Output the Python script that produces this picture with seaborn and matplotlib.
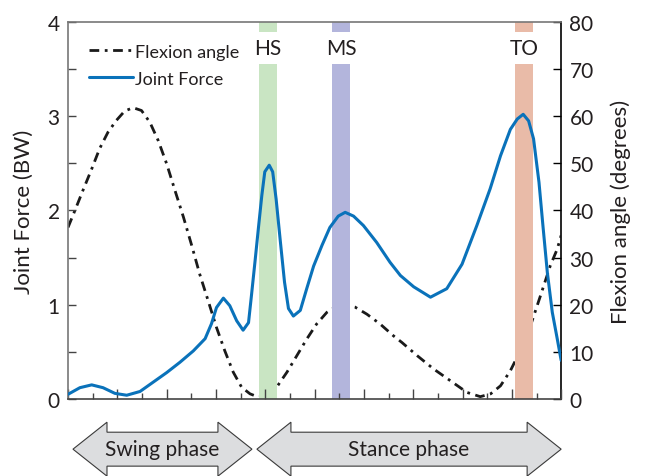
import numpy as np
import pandas as pd
import seaborn as sns
import matplotlib.pyplot as plt
from matplotlib.patches import Polygon
from matplotlib.lines import Line2D
import matplotlib.transforms as mtransforms

# gait cycle (%) and joint force (BW)
force_pct = [0.0, 2.4, 4.8, 7.1, 9.5, 11.9, 14.6, 17.3, 20.0, 22.7, 25.4, 27.8, 29.1, 30.1,
             31.5, 32.8, 34.2, 35.5, 36.6, 37.2, 37.9, 38.6, 39.3, 39.9, 40.8, 41.5, 42.2,
             43.0, 43.9, 44.7, 45.7, 47.1, 48.4, 49.8, 51.5, 53.1, 54.8, 56.2, 57.9, 59.9,
             62.6, 65.3, 67.4, 70.1, 73.5, 76.8, 79.9, 82.9, 85.6, 87.7, 89.7, 91.1, 92.3,
             93.4, 94.4, 95.5, 96.3, 97.2, 98.2, 99.2, 100]
force_bw = [0.05, 0.12, 0.15, 0.12, 0.06, 0.04, 0.08, 0.18, 0.28, 0.39, 0.51, 0.64, 0.80, 0.97,
            1.07, 0.99, 0.83, 0.73, 0.81, 1.10, 1.45, 1.81, 2.16, 2.41, 2.48, 2.41, 2.12,
            1.70, 1.24, 0.96, 0.88, 0.94, 1.17, 1.41, 1.63, 1.82, 1.94, 1.98, 1.94, 1.84,
            1.66, 1.45, 1.31, 1.19, 1.08, 1.17, 1.43, 1.84, 2.23, 2.58, 2.86, 2.97, 3.02,
            2.95, 2.76, 2.30, 1.84, 1.34, 0.92, 0.64, 0.41]

# gait cycle (%) and flexion angle (degrees)
flex_pct = [0.0, 1.4, 3.0, 4.8, 6.4, 8.1, 9.8, 11.5, 13.2, 14.9, 16.6, 18.3, 20.0, 21.7, 23.4,
            25.1, 26.7, 28.4, 30.1, 31.8, 33.5, 35.2, 36.9, 38.6, 40.6, 42.3, 44.4, 46.4,
            48.4, 50.4, 52.5, 54.5, 56.2, 58.2, 60.6, 63.3, 66.0, 67.7, 70.8, 74.1, 77.5,
            80.9, 83.6, 85.7, 87.7, 89.7, 91.7, 93.8, 95.8, 97.8, 99.2, 100]
flex_deg = [36.4, 40.0, 44.2, 48.8, 53.1, 56.6, 59.1, 61.1, 61.8, 61.2, 58.7, 54.8, 49.9, 44.2,
            38.6, 32.5, 26.5, 20.9, 15.2, 10.2, 5.7, 2.5, 1.1, 0.4, 0.7, 2.5, 5.7, 9.2,
            12.7, 15.9, 18.4, 19.7, 20.0, 19.5, 18.0, 15.9, 13.4, 12.0, 9.2, 6.4, 3.9,
            1.4, 0.5, 1.1, 2.8, 6.0, 10.2, 15.6, 21.9, 28.3, 31.8, 34.7]

# gait events (start, end in % of cycle)
events = ['HS', 'MS', 'TO']
event_start = [38.7, 53.5, 90.7]
event_end = [42.4, 57.2, 94.3]
event_colors = ['#c9e5c3', '#b3b5dc', '#e9bba8']

phases = ['Swing phase', 'Stance phase']
phase_start = [1.0, 38.3]
phase_end = [37.3, 100]

force_df = pd.DataFrame({'pct': force_pct, 'force': force_bw})
flex_df = pd.DataFrame({'pct': flex_pct, 'angle': flex_deg})

sns.set_style('ticks', {
    'xtick.direction': 'in',
    'ytick.direction': 'in',
})
plt.rcParams['font.family'] = ['Lato', 'DejaVu Sans']
text_color = '#231f20'

fig, ax = plt.subplots(figsize=(6.51, 4.77), dpi=100)
fig.subplots_adjust(left=0.1045, right=0.862, bottom=0.1614, top=0.952)
ax2 = ax.twinx()

for name, s, e, c in zip(events, event_start, event_end, event_colors):
    ax.axvspan(s, e, ymin=0, ymax=0.8886, color=c, lw=0, zorder=0)
    ax.axvspan(s, e, ymin=0.9735, ymax=1, color=c, lw=0, zorder=0)
    ax.text((s + e) / 2, 0.931, name, transform=ax.get_xaxis_transform(),
            ha='center', va='center', fontsize=15, color=text_color)

blue = '#0a72ba'
dashdot = (0, (3.5, 2, 1, 2))
sns.lineplot(data=force_df, x='pct', y='force', ax=ax, color=blue, lw=2.2, zorder=3)
sns.lineplot(data=flex_df, x='pct', y='angle', ax=ax2, color='#1a1a1a', lw=2.0,
             linestyle=dashdot, zorder=3)

ax.set_xlim(0, 100)
ax.set_ylim(0, 4)
ax2.set_ylim(0, 80)
ax.set_xticks(np.arange(0, 101, 10))
ax.set_xticks(np.arange(5, 100, 10), minor=True)
ax.set_xticklabels([])
ax.set_yticks([0, 1, 2, 3, 4])
ax.set_yticks([0.5, 1.5, 2.5, 3.5], minor=True)
ax2.set_yticks(np.arange(0, 81, 10))

ax.tick_params(axis='x', which='major', length=7, width=1, color='#444444')
ax.tick_params(axis='x', which='minor', length=4, width=1, color='#444444')
ax.tick_params(axis='y', which='both', length=6, width=1, color='#444444',
               labelsize=15, labelcolor=text_color, pad=6)
ax2.tick_params(axis='y', length=6, width=1, color='black', labelsize=15,
                labelcolor=text_color, pad=6)

ax.set_xlabel('')
ax.set_ylabel('Joint Force (BW)', fontsize=16, color=text_color, labelpad=10)
ax2.set_ylabel('Flexion angle (degrees)', fontsize=16, color=text_color, labelpad=12)

for name in ['top', 'left', 'bottom']:
    ax.spines[name].set_color('#777777')
    ax2.spines[name].set_visible(False)
ax.spines['bottom'].set_color('#444444')
ax2.spines['right'].set_color('black')
ax.spines['right'].set_visible(False)
for sp in ax.spines.values():
    sp.set_linewidth(1.2)
ax2.spines['right'].set_linewidth(1.2)

handles = [Line2D([], [], color='#1a1a1a', lw=2.0, linestyle=dashdot),
           Line2D([], [], color=blue, lw=2.2)]
ax.legend(handles, ['Flexion angle', 'Joint Force'], loc='upper left',
          bbox_to_anchor=(0.01, 0.985), frameon=False, fontsize=13,
          handlelength=2.4, handletextpad=0.15, labelspacing=0.6,
          labelcolor=text_color)

# phase arrows under the axis
trans = mtransforms.blended_transform_factory(ax.transData, ax.transAxes)
yc, hh, sh, head = -0.133, 0.0716, 0.045, 6.9
for name, s, e in zip(phases, phase_start, phase_end):
    pts = [(s, yc), (s + head, yc + hh), (s + head, yc + sh), (e - head, yc + sh),
           (e - head, yc + hh), (e, yc), (e - head, yc - hh), (e - head, yc - sh),
           (s + head, yc - sh), (s + head, yc - hh)]
    ax.add_patch(Polygon(pts, closed=True, transform=trans, clip_on=False,
                         facecolor='#dcdddf', edgecolor='#3a3a3a', lw=0.8))
    ax.text((s + e) / 2, yc, name, transform=trans, ha='center', va='center',
            fontsize=15, color=text_color)

ax.set_zorder(ax2.get_zorder() + 1)
ax.patch.set_visible(False)

plt.savefig('out.png', dpi=100)
